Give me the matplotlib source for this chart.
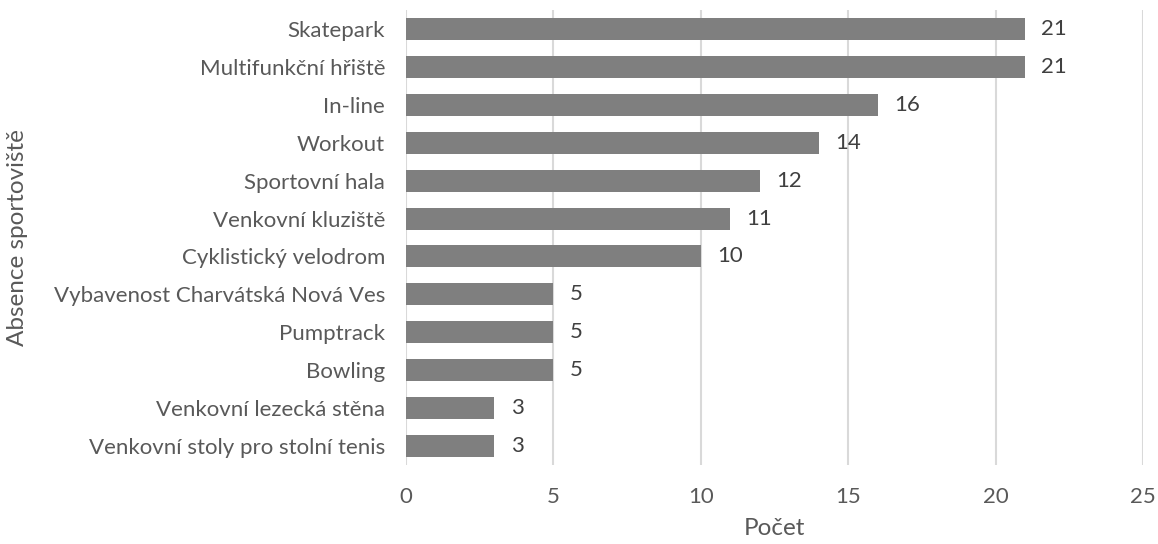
import matplotlib.pyplot as plt

plt.rcParams['font.family'] = ['Lato', 'DejaVu Sans']

# Data (top to bottom as in the chart)
categories = ["Skatepark", "Multifunkční hřiště", "In-line", "Workout",
              "Sportovní hala", "Venkovní kluziště", "Cyklistický velodrom",
              "Vybavenost Charvátská Nová Ves", "Pumptrack", "Bowling",
              "Venkovní lezecká stěna", "Venkovní stoly pro stolní tenis"]
counts = [21, 21, 16, 14, 12, 11, 10, 5, 5, 5, 3, 3]
x_ticks = [0, 5, 10, 15, 20, 25]

fig = plt.figure(figsize=(11.58, 5.44), dpi=100)
ax = fig.add_axes([0.3506, 0.1452, 0.6364, 0.8364])

pos = list(range(len(categories)))
ax.barh(pos, counts, height=0.58, color="#7f7f7f", zorder=3)
for p, v in zip(pos, counts):
    ax.text(v + 0.55, p, str(v), va="center", ha="left", fontsize=16, color="#404040")

ax.set_yticks(pos)
ax.set_yticklabels(categories)
ax.set_ylim(len(categories) - 0.5, -0.5)
ax.set_xlim(0, 25)
ax.set_xticks(x_ticks)

ax.grid(axis="x", color="#d9d9d9", linewidth=1.5, zorder=0)
for s in ax.spines.values():
    s.set_visible(False)
ax.tick_params(axis="both", length=0, labelsize=16, labelcolor="#595959")
ax.tick_params(axis="y", pad=15)
ax.tick_params(axis="x", pad=16)

ax.set_xlabel("Počet", fontsize=17.5, color="#595959", labelpad=8)
ax.set_ylabel("Absence sportoviště", fontsize=17.5, color="#595959")
ax.yaxis.set_label_coords(-0.513, 0.5)

fig.savefig("out.png", dpi=100)
